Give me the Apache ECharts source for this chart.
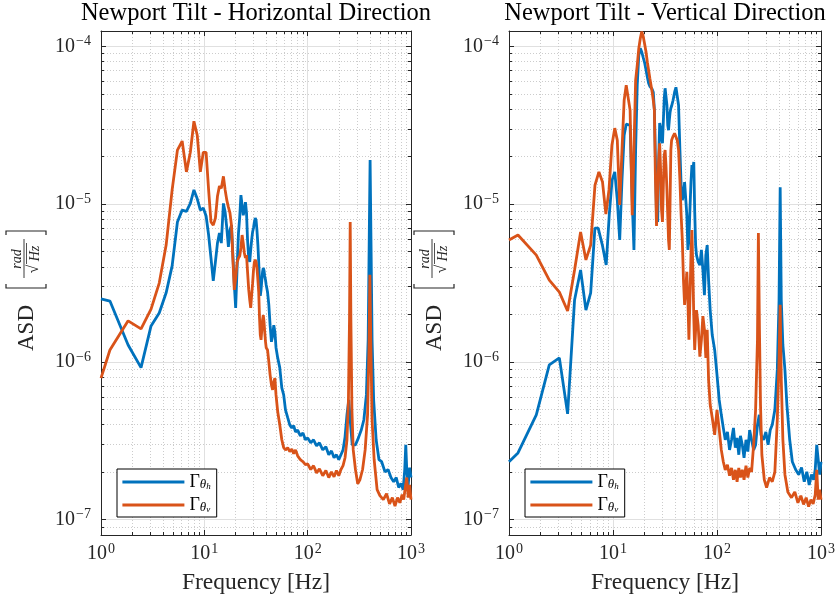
<!DOCTYPE html>
<html><head><meta charset="utf-8">
<script src="https://cdn.jsdelivr.net/npm/echarts@6/dist/echarts.min.js"></script>
<style>html,body{margin:0;padding:0;background:#fff}#c{width:838px;height:603px}</style>
</head><body><div id="c"></div>
<script>
// ---------- axes ----------
const xMin = 1, xMax = 1000, yMin = 8e-8, yMax = 1.25e-4;
const xMajorTicks = [1, 10, 100, 1000];
const yMajorTicks = [1e-7, 1e-6, 1e-5, 1e-4];
const xMinorTicks = [2,3,4,5,6,7,8,9,20,30,40,50,60,70,80,90,200,300,400,500,600,700,800,900];
const yMinorTicks = [9e-8,2e-7,3e-7,4e-7,5e-7,6e-7,7e-7,8e-7,9e-7,2e-6,3e-6,4e-6,5e-6,6e-6,7e-6,8e-6,9e-6,2e-5,3e-5,4e-5,5e-5,6e-5,7e-5,8e-5,9e-5];
const titles = ['Newport Tilt - Horizontal Direction', 'Newport Tilt - Vertical Direction'];
const xAxisName = 'Frequency [Hz]';
const seriesNames = ['Γθh', 'Γθv'];

// ---------- data: horizontal direction ----------
const horizFreqThH = [1,1.22,1.83,2.44,3.05,3.66,4.27,4.88,5.49,6.10,6.71,7.32,7.93,8.54,9.15,9.77,10.4,11.0,11.6,12.2,12.8,13.4,14.0,14.6,15.3,15.9,16.5,17.1,17.7,18.3,18.9,19.5,20.1,20.8,21.4,22.0,22.6,23.2,23.8,24.4,25.0,25.6,26.2,26.9,27.5,28.1,28.7,29.3,29.9,30.5,31.1,31.7,32.3,33.0,33.6,34.2,34.8,35.4,36.0,36.6,37.2,37.8,38.4,39.1,39.7,40.9,42.1,43.3,44.6,45.8,47.0,48.2,49.4,51.3,53.7,56.2,58.6,61.0,64.1,67.1,70.2,73.2,76.3,80,85,90,95,100,107,114,122,130,140,150,160,170,180,190,200,210,220,230,240,250,260,270,290,310,330,350,370,385,395,402,410,420,435,460,490,520,560,600,640,680,720,760,800,840,870,890,910,940,970,1000];
const horizAsdThH = [2.51e-6,2.43e-6,1.28e-6,9.2e-7,1.69e-6,2.04e-6,2.74e-6,4.06e-6,7.7e-6,9.16e-6,9.0e-6,1.01e-5,1.23e-5,1.08e-5,9.16e-6,9.44e-6,8.4e-6,6.37e-6,4.55e-6,3.26e-6,4.3e-6,5.66e-6,6.55e-6,5.66e-6,1.01e-5,8.9e-6,7.05e-6,5.35e-6,6.84e-6,7.36e-6,4.75e-6,3.1e-6,2.2e-6,4.11e-6,6.55e-6,8.28e-6,1.14e-5,1.17e-5,8.5e-6,9.16e-6,1.03e-5,8.8e-6,5.92e-6,4.55e-6,4.3e-6,5.12e-6,5.92e-6,6.65e-6,7.05e-6,7.7e-6,8.15e-6,7.9e-6,6.84e-6,5.5e-6,4.3e-6,3.2e-6,2.62e-6,2.86e-6,3.3e-6,3.72e-6,3.94e-6,3.8e-6,3.5e-6,3.3e-6,3.07e-6,2.77e-6,2.3e-6,1.71e-6,1.34e-6,1.46e-6,1.71e-6,1.55e-6,1.23e-6,1.06e-6,9.2e-7,6.84e-7,6.18e-7,4.97e-7,4.43e-7,3.99e-7,3.82e-7,3.94e-7,3.6e-7,3.7e-7,3.4e-7,3.55e-7,3.21e-7,3.3e-7,3.07e-7,3.21e-7,2.94e-7,3.07e-7,2.77e-7,2.9e-7,2.58e-7,2.73e-7,2.47e-7,2.58e-7,2.4e-7,2.58e-7,2.77e-7,3.35e-7,4.62e-7,5.74e-7,4.0e-7,2.98e-7,2.98e-7,3.3e-7,3.7e-7,4.3e-7,6.18e-7,1.38e-6,6.84e-6,1.9e-5,5.92e-6,1.38e-6,5.74e-7,3.21e-7,2.4e-7,2.33e-7,2.01e-7,2.08e-7,1.85e-7,1.74e-7,1.85e-7,1.6e-7,1.7e-7,1.55e-7,2.08e-7,2.98e-7,2.08e-7,1.66e-7,2.14e-7,1.85e-7];
const horizFreqThV = [1,1.22,1.83,2.44,3.05,3.66,4.27,4.88,5.49,6.10,6.71,7.32,7.93,8.54,9.15,9.77,10.4,11.0,11.6,12.2,12.8,13.4,14.0,14.6,15.3,15.9,16.5,17.1,17.7,18.3,18.9,19.5,20.1,20.8,21.4,22.0,22.6,23.2,23.8,24.4,25.0,25.6,26.2,26.9,27.5,28.1,28.7,29.3,29.9,30.5,31.1,31.7,32.3,33.0,33.6,34.2,34.8,35.4,36.0,36.6,37.2,37.8,38.4,39.1,39.7,40.9,42.1,43.3,44.6,45.8,47.0,48.2,49.4,51.3,53.7,56.2,58.6,61.0,64.1,67.1,70.2,73.2,76.3,80,85,90,95,100,107,114,122,130,140,150,160,170,180,190,200,210,220,230,240,248,254,258,262,268,276,290,305,320,340,360,380,392,400,408,420,440,470,500,540,580,620,660,700,740,780,820,850,880,910,940,970,1000];
const horizAsdThV = [7.9e-7,1.19e-6,1.82e-6,1.62e-6,2.16e-6,3.16e-6,5.5e-6,1.23e-5,2.2e-5,2.51e-5,1.6e-5,2.13e-5,3.35e-5,2.73e-5,1.6e-5,2.13e-5,2.13e-5,1.23e-5,7.7e-6,7.36e-6,8.15e-6,1.12e-5,1.3e-5,1.26e-5,1.5e-5,1.23e-5,1.06e-5,9.57e-6,8.8e-6,7.36e-6,4.43e-6,2.86e-6,3.4e-6,4.3e-6,4.55e-6,4.69e-6,5.27e-6,6.37e-6,5.66e-6,4.9e-6,4.55e-6,4.75e-6,3.72e-6,2.86e-6,2.47e-6,2.2e-6,2.65e-6,3.12e-6,3.8e-6,4.3e-6,4.43e-6,4.3e-6,3.94e-6,3.3e-6,2.77e-6,1.9e-6,1.48e-6,1.38e-6,1.6e-6,1.85e-6,1.98e-6,1.8e-6,1.55e-6,1.34e-6,1.23e-6,1.19e-6,1.0e-6,8.28e-7,7.15e-7,6.65e-7,7.47e-7,7.9e-7,6.18e-7,4.83e-7,4.0e-7,3.21e-7,2.86e-7,2.77e-7,2.86e-7,2.7e-7,2.8e-7,2.62e-7,2.77e-7,2.54e-7,2.4e-7,2.33e-7,2.23e-7,2.26e-7,2.08e-7,2.2e-7,1.98e-7,2.1e-7,1.9e-7,2.05e-7,1.85e-7,2.01e-7,1.87e-7,2.05e-7,1.9e-7,2.08e-7,2.2e-7,2.47e-7,3.21e-7,5.74e-7,1.85e-6,7.7e-6,1.85e-6,4.97e-7,2.77e-7,2.08e-7,1.69e-7,1.79e-7,2.08e-7,2.77e-7,4.62e-7,1.19e-6,3.56e-6,1.38e-6,4.3e-7,2.4e-7,1.55e-7,1.42e-7,1.34e-7,1.46e-7,1.26e-7,1.38e-7,1.22e-7,1.38e-7,1.28e-7,1.44e-7,1.34e-7,1.6e-7,1.85e-7,1.38e-7,1.66e-7,1.34e-7];

// ---------- data: vertical direction ----------
const vertFreqThH = [1,1.22,1.83,2.44,3.05,3.66,4.27,4.88,5.49,6.10,6.7,7.2,7.9,8.6,9.2,9.8,10.4,11.0,11.6,12.2,12.8,13.4,14.0,14.6,15.3,15.9,16.5,17.1,17.7,18.3,18.9,19.5,20.1,20.8,21.4,22.0,22.6,23.2,23.8,24.4,25.0,25.6,26.2,26.9,27.5,28.1,28.7,29.3,29.9,30.5,31.1,31.7,32.3,33.0,33.6,34.2,34.8,35.4,36.0,36.6,37.8,39.1,40.3,41.5,42.7,44.0,45.2,46.4,47.6,48.8,50.0,51.3,52.5,53.7,54.9,56.2,57.4,58.6,59.8,61.0,62.3,63.5,65.9,68.4,70.8,73.2,75.7,78.1,80.5,83,86,90,95,100,105,110,115,120,126,132,138,144,150,156,162,168,175,182,190,198,206,215,225,235,245,255,265,280,295,310,325,340,360,380,395,405,415,430,450,470,500,530,570,610,650,690,730,770,810,850,880,910,940,970,1000];
const vertAsdThH = [2.33e-7,2.65e-7,4.62e-7,9.57e-7,1.06e-6,4.69e-7,2.47e-6,3.82e-6,2.13e-6,2.74e-6,7.05e-6,7.05e-6,5.5e-6,4.11e-6,8.5e-6,1.42e-5,1.6e-5,1.06e-5,5.92e-6,1.42e-5,2.73e-5,3.21e-5,3.3e-5,3.16e-5,1.06e-5,5.12e-6,2.2e-5,5.66e-5,8.77e-5,9.7e-5,9.2e-5,8.5e-5,7.92e-5,7.05e-5,6.37e-5,5.83e-5,5.58e-5,5.42e-5,5.35e-5,5.12e-5,3.94e-5,1.9e-5,8.5e-6,7.7e-6,1.9e-5,3.26e-5,3.03e-5,2.62e-5,2.43e-5,3.4e-5,4.69e-5,5.42e-5,5.27e-5,4.23e-5,3.16e-5,2.94e-5,3.4e-5,3.82e-5,4.05e-5,4.18e-5,4.55e-5,5.12e-5,5.5e-5,5.58e-5,4.23e-5,2.2e-5,1.32e-5,1.06e-5,1.14e-5,1.38e-5,1.42e-5,8.5e-6,5.12e-6,5.92e-6,9.16e-6,1.38e-5,1.77e-5,1.64e-5,1.85e-5,9.16e-6,5.5e-6,4.75e-6,4.3e-6,4.11e-6,5.12e-6,3.82e-6,2.65e-6,4.75e-6,5.5e-6,3.3e-6,2.13e-6,1.48e-6,1.19e-6,8.28e-7,5.74e-7,4.62e-7,3.82e-7,3.21e-7,3.6e-7,2.77e-7,3.21e-7,3.82e-7,2.86e-7,3.3e-7,2.58e-7,3.4e-7,2.98e-7,2.47e-7,3.21e-7,2.7e-7,3.7e-7,3.21e-7,2.77e-7,2.98e-7,4.0e-7,4.62e-7,3.45e-7,3.21e-7,3.6e-7,2.98e-7,3.7e-7,4.0e-7,4.97e-7,8.9e-7,2.47e-6,1.28e-5,2.47e-6,1.28e-6,8.9e-7,5.35e-7,3.21e-7,2.33e-7,2.08e-7,1.93e-7,2.14e-7,1.74e-7,2.01e-7,1.66e-7,1.93e-7,1.79e-7,2.08e-7,2.98e-7,2.4e-7,1.93e-7,2.33e-7];
const vertFreqThV = [1,1.22,1.83,2.44,3.05,3.66,4.27,4.88,5.49,6.1,6.71,7.32,7.93,8.54,9.15,9.76,10.4,11.0,11.6,12.2,12.8,13.4,14.0,14.6,15.3,15.9,16.5,17.1,17.7,18.3,18.9,19.5,20.1,20.8,21.4,22.0,22.6,23.2,23.8,24.4,25.0,25.6,26.2,26.9,27.5,28.1,28.7,29.3,29.9,30.5,31.1,31.7,32.3,33.0,33.6,34.2,34.8,35.4,36.0,36.6,37.8,39.1,40.3,41.5,42.7,44.0,45.2,46.4,47.6,48.8,50.0,51.3,52.5,53.7,54.9,56.2,57.4,58.6,59.8,61.0,62.3,63.5,65.9,68.4,70.8,73.2,75.7,78.1,80.5,83,86,90,95,100,105,110,115,120,126,132,138,144,150,156,162,168,175,182,190,198,206,215,225,235,245,250,256,262,270,285,300,320,340,360,380,395,405,415,430,450,480,520,560,600,640,680,720,760,800,840,880,910,940,970,1000];
const vertAsdThV = [5.92e-6,6.37e-6,4.75e-6,3.3e-6,2.77e-6,2.1e-6,3.82e-6,6.65e-6,4.43e-6,5.5e-6,1.32e-5,1.6e-5,1.38e-5,8.65e-6,1.23e-5,2.36e-5,3.03e-5,2.54e-5,9.86e-6,2.2e-5,4.55e-5,5.66e-5,5.74e-5,3.94e-5,8.5e-6,2.2e-5,6.09e-5,7.58e-5,9.7e-5,1.12e-4,1.24e-4,1.16e-4,1.04e-4,9.16e-5,7.92e-5,7.05e-5,6.27e-5,5.66e-5,5.12e-5,4.55e-5,3.94e-5,1.42e-5,7.26e-6,1.23e-5,1.9e-5,2.43e-5,1.64e-5,9.16e-6,7.7e-6,1.32e-5,2.04e-5,2.2e-5,1.77e-5,1.23e-5,8.5e-6,5.92e-6,5.12e-6,1.06e-5,2.2e-5,2.54e-5,2.69e-5,2.81e-5,2.81e-5,2.54e-5,2.2e-5,1.42e-5,8.5e-6,5.92e-6,3.3e-6,2.3e-6,2.86e-6,3.72e-6,2.47e-6,1.38e-6,2.47e-6,4.75e-6,6.84e-6,3.82e-6,1.93e-6,1.19e-6,1.6e-6,2.13e-6,1.71e-6,1.08e-6,1.38e-6,1.95e-6,1.6e-6,1.06e-6,1.6e-6,7.7e-7,5.35e-7,4.43e-7,3.45e-7,4.97e-7,3.72e-7,2.77e-7,2.33e-7,2.07e-7,2.23e-7,1.9e-7,2.13e-7,1.79e-7,2.07e-7,1.74e-7,2.13e-7,1.85e-7,2.07e-7,1.79e-7,2.2e-7,1.85e-7,2.13e-7,2.01e-7,2.98e-7,4.97e-7,1.38e-6,6.55e-6,1.6e-6,5.35e-7,2.58e-7,1.79e-7,1.6e-7,1.85e-7,1.74e-7,2.01e-7,4.3e-7,1.03e-6,2.3e-6,7.7e-7,3.21e-7,1.93e-7,1.5e-7,1.38e-7,1.5e-7,1.28e-7,1.42e-7,1.25e-7,1.38e-7,1.21e-7,1.34e-7,1.26e-7,1.44e-7,2.07e-7,1.34e-7,1.55e-7,1.34e-7];

// ---------- styling ----------
const FONT = "'Liberation Serif', 'Times New Roman', serif";
const AX = '#262626';
const BLUE = '#0072BD', ORANGE = '#D95319';
const MAJOR_GRID = '#e0e0e0', MINOR_GRID = '#cccccc';
const gridBoxes = [{left:101, top:31, width:310, height:504}, {left:509, top:31, width:312, height:504}];

const richTick = {
  b: {fontFamily: FONT, fontSize: 20, color: AX, lineHeight: 20},
  e: {fontFamily: FONT, fontSize: 14, color: AX, lineHeight: 20, padding: [0, 0, 10, 1]}
};
function isMajor(v, list) {
  return list.some(t => Math.abs(Math.log10(v) - Math.log10(t)) < 1e-6);
}
function powFmt(list) {
  return function (v) {
    if (!isMajor(v, list)) return '';
    const e = Math.round(Math.log10(v));
    return '{b|10}{e|' + (e < 0 ? '\u2212' + (-e) : e) + '}';
  };
}

const xAxes = [], yAxes = [];
gridBoxes.forEach((g, gi) => {
  const tickStyle = {color: AX, width: 1};
  xAxes.push({type:'log', logBase:10, gridIndex:gi, position:'bottom', min:xMin, max:xMax,
    axisLine:{show:true, onZero:false, lineStyle:{color:AX, width:1}},
    axisTick:{show:true, inside:true, length:5, lineStyle:tickStyle},
    axisLabel:{show:true, margin:9, formatter:powFmt(xMajorTicks), rich:richTick, hideOverlap:false},
    splitLine:{show:true, lineStyle:{color:MAJOR_GRID, width:1}},
    name:xAxisName, nameLocation:'middle', nameGap:36,
    nameTextStyle:{fontFamily:FONT, fontSize:23.5, color:AX}});
  xAxes.push({type:'value', gridIndex:gi, position:'bottom', min:Math.log10(xMin), max:Math.log10(xMax),
    axisLine:{show:false, onZero:false},
    axisTick:{show:true, inside:true, length:3, customValues:xMinorTicks.map(Math.log10), lineStyle:tickStyle},
    axisLabel:{show:false},
    splitLine:{show:true, lineStyle:{color:MINOR_GRID, width:1, type:[1,2]}}});
  xAxes.push({type:'log', logBase:10, gridIndex:gi, position:'top', min:xMin, max:xMax,
    axisLine:{show:true, onZero:false, lineStyle:{color:AX, width:1}},
    axisTick:{show:true, inside:true, length:5, lineStyle:tickStyle},
    axisLabel:{show:false}, splitLine:{show:false}});
  xAxes.push({type:'value', gridIndex:gi, position:'top', min:Math.log10(xMin), max:Math.log10(xMax),
    axisLine:{show:false, onZero:false},
    axisTick:{show:true, inside:true, length:3, customValues:xMinorTicks.map(Math.log10), lineStyle:tickStyle},
    axisLabel:{show:false}, splitLine:{show:false}});

  yAxes.push({type:'log', logBase:10, gridIndex:gi, position:'left', min:yMin, max:yMax,
    axisLine:{show:true, onZero:false, lineStyle:{color:AX, width:1}},
    axisTick:{show:true, inside:true, length:5, lineStyle:tickStyle},
    axisLabel:{show:true, margin:10, formatter:powFmt(yMajorTicks), rich:richTick, hideOverlap:false},
    splitLine:{show:true, lineStyle:{color:MAJOR_GRID, width:1}}});
  yAxes.push({type:'value', gridIndex:gi, position:'left', min:Math.log10(yMin), max:Math.log10(yMax),
    axisLine:{show:false, onZero:false},
    axisTick:{show:true, inside:true, length:3, customValues:yMinorTicks.map(Math.log10), lineStyle:tickStyle},
    axisLabel:{show:false},
    splitLine:{show:true, lineStyle:{color:MINOR_GRID, width:1, type:[1,2]}}});
  yAxes.push({type:'log', logBase:10, gridIndex:gi, position:'right', min:yMin, max:yMax,
    axisLine:{show:true, onZero:false, lineStyle:{color:AX, width:1}},
    axisTick:{show:true, inside:true, length:5, lineStyle:tickStyle},
    axisLabel:{show:false}, splitLine:{show:false}});
  yAxes.push({type:'value', gridIndex:gi, position:'right', min:Math.log10(yMin), max:Math.log10(yMax),
    axisLine:{show:false, onZero:false},
    axisTick:{show:true, inside:true, length:3, customValues:yMinorTicks.map(Math.log10), lineStyle:tickStyle},
    axisLabel:{show:false}, splitLine:{show:false}});
});

function pairs(fs, vs) { return fs.map((f, i) => [f, vs[i]]); }
function lineSeries(name, gi, color, fs, vs) {
  return {type:'line', name:name, xAxisIndex:gi*4, yAxisIndex:gi*4, data:pairs(fs, vs),
    showSymbol:false, symbol:'none', clip:true, z:3,
    lineStyle:{color:color, width:2.8}, itemStyle:{color:color}, emphasis:{disabled:true}};
}
const series = [
  lineSeries(seriesNames[0], 0, BLUE, horizFreqThH, horizAsdThH),
  lineSeries(seriesNames[1], 0, ORANGE, horizFreqThV, horizAsdThV),
  lineSeries(seriesNames[0], 1, BLUE, vertFreqThH, vertAsdThH),
  lineSeries(seriesNames[1], 1, ORANGE, vertFreqThV, vertAsdThV)
];

const legendRich = {
  g: {fontFamily: FONT, fontSize: 18, color: '#000', lineHeight: 18},
  t: {fontFamily: FONT, fontSize: 13, fontStyle: 'italic', color: '#000', lineHeight: 8, verticalAlign: 'bottom'},
  s: {fontFamily: FONT, fontSize: 9, fontStyle: 'italic', color: '#000', lineHeight: 2, verticalAlign: 'bottom'}
};
function legendFmt(name) {
  return '{g|Γ}{t|θ}{s|' + (name === seriesNames[0] ? 'h' : 'v') + '}';
}
const legends = gridBoxes.map((g, gi) => ({
  left: g.left + 16, top: 469, orient: 'vertical', itemWidth: 62, itemHeight: 14, itemGap: 5,
  padding: [4, 6, 3, 4], borderColor: '#000', borderWidth: 1, backgroundColor: '#fff',
  data: seriesNames, formatter: legendFmt, selectedMode: false,
  itemStyle: {opacity: 0, borderWidth: 0},
  lineStyle: {width: 2.8},
  textStyle: {rich: legendRich}, z: 10
}));

const titleComps = gridBoxes.map((g, gi) => ({
  text: titles[gi], left: g.left + g.width / 2, top: 1, textAlign: 'center', padding: 0,
  textStyle: {fontFamily: FONT, fontSize: 24.5, fontWeight: 'normal', color: '#000'}
}));

function yLabelGroup(cx, cy) {
  const ts = {fontFamily: FONT, fill: AX};
  return {type: 'group', x: cx, y: cy, rotation: Math.PI / 2, children: [
    {type: 'text', style: Object.assign({text: 'ASD', x: -40, y: 0, align: 'center', verticalAlign: 'middle', fontSize: 23}, ts)},
    {type: 'polyline', shape: {points: [[4, -21], [0, -21], [0, 19], [4, 19]]}, style: {stroke: AX, lineWidth: 1.2, fill: null}},
    {type: 'polyline', shape: {points: [[53, -21], [57, -21], [57, 19], [53, 19]]}, style: {stroke: AX, lineWidth: 1.2, fill: null}},
    {type: 'text', style: Object.assign({text: 'rad', x: 29, y: -10, align: 'center', verticalAlign: 'middle', fontSize: 14, fontStyle: 'italic'}, ts)},
    {type: 'line', shape: {x1: 10, y1: -3, x2: 49, y2: -3}, style: {stroke: AX, lineWidth: 0.9}},
    {type: 'text', style: Object.assign({text: '\u221A', x: 19, y: 7, align: 'center', verticalAlign: 'middle', fontSize: 16}, ts)},
    {type: 'line', shape: {x1: 24, y1: -0.5, x2: 45, y2: -0.5}, style: {stroke: AX, lineWidth: 0.8}},
    {type: 'text', style: Object.assign({text: 'Hz', x: 34.5, y: 8, align: 'center', verticalAlign: 'middle', fontSize: 14, fontStyle: 'italic'}, ts)}
  ]};
}

const chart = echarts.init(document.getElementById('c'), null, {renderer: 'canvas', width: 838, height: 603});
chart.setOption({
  animation: false,
  backgroundColor: '#fff',
  title: titleComps,
  grid: gridBoxes.map(g => Object.assign({outerBoundsMode: 'none', containLabel: false}, g)),
  xAxis: xAxes,
  yAxis: yAxes,
  legend: legends,
  series: series,
  graphic: [yLabelGroup(27, 288), yLabelGroup(435, 288)]
});
</script>
</body></html>
